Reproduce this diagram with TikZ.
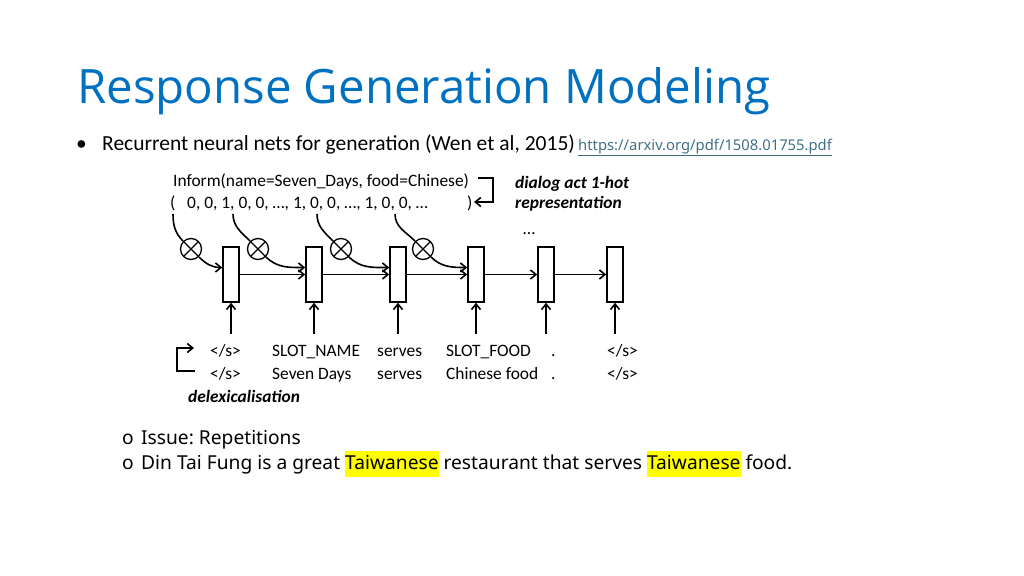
\documentclass[tikz,border=0pt]{standalone}
\usepackage{fontspec}
\setmainfont{Carlito}
\newfontfamily\titlefont{Open Sans}
\newfontfamily\notefont{Noto Sans}
\usetikzlibrary{arrows.meta}
\definecolor{titleblue}{RGB}{0,112,192}
\definecolor{linkgrey}{RGB}{64,112,134}
\definecolor{hlyellow}{RGB}{255,255,0}
\frenchspacing

\begin{document}
\begin{tikzpicture}[x=1pt, y=-1pt,
        cell/.style={rectangle, draw, line width=1.6pt, minimum width=16pt, minimum height=55pt, inner sep=0pt},
        token/.style={anchor=base west, inner sep=0pt, font=\fontsize{17.4}{17.4}\selectfont},
        mult/.style={circle, draw, line width=1.3pt, minimum size=21pt, inner sep=0pt,
            path picture={\draw[line width=1.3pt] (path picture bounding box.north west) -- (path picture bounding box.south east)
                (path picture bounding box.north east) -- (path picture bounding box.south west);}},
        remark/.style={anchor=base west, inner sep=0pt, font=\fontsize{17.4}{17.4}\selectfont\bfseries\itshape},
        bullet/.style={anchor=base west, inner sep=0pt, font=\notefont\fontsize{19.2}{26}\selectfont},
        arrow/.style={-{Straight Barb[length=5.5pt,width=9pt]}, line width=1.6pt}
    ]
        \useasboundingbox (0,0) rectangle (1024,575);

        % slide text
        \node[anchor=base west, inner sep=0pt, text=titleblue, font=\titlefont\fontsize{47.4}{47.4}\selectfont] (title) at (77,103) {Response Generation Modeling};
        \node[anchor=base west, inner sep=0pt, font=\fontsize{21.5}{21.5}\selectfont] (dot) at (76,150) {\textbullet};
        \node[anchor=base west, inner sep=0pt, font=\fontsize{21.5}{21.5}\selectfont] (intro) at (102,150) {Recurrent neural nets for generation (Wen et al, 2015)};
        \node[anchor=base west, inner sep=0pt, text=linkgrey, font=\notefont\fontsize{14.8}{14.8}\selectfont] (link) at (578,150) {\underline{https://arxiv.org/pdf/1508.01755.pdf}};

        % dialog act
        \node[token] (act) at (173,186) {Inform(name=Seven\_Days, food=Chinese)};
        \node[token] (lbr) at (170,208) {(};
        \node[token] (vec) at (187,208) {0, 0, 1, 0, 0, …, 1, 0, 0, …, 1, 0, 0, …};
        \node[token] (rbr) at (467,208) {)};
        \node[remark] (hot) at (515,188) {dialog act 1-hot};
        \node[remark] (hot2) at (515,208) {representation};
        \node[token] (more) at (523,234) {…};
        \coordinate (actA) at (478,178);
        \coordinate (actB) at (474,202);
        \draw[arrow] (actA) -- ++(15,0) |- (actB);

        % recurrent cells
        \foreach \x [count=\i] in {231,314,398,476,546,615} {
            \node[cell] (c\i) at (\x,274.5) {};
            \coordinate (in\i) at (\x,334);
            \draw[arrow] (in\i) -- (c\i.south);
        }
        \foreach \i [count=\j from 2] in {1,...,5}
            \draw[arrow] (c\i.east) -- (c\j.west);

        % gated dialog act
        \coordinate (d1) at (173,214);
        \coordinate (d2) at (233,214);
        \coordinate (d3) at (317,214);
        \coordinate (d4) at (395,214);
        \node[mult] (m1) at (191,249) {};
        \node[mult] (m2) at (258,249) {};
        \node[mult] (m3) at (341,249) {};
        \node[mult] (m4) at (423,249) {};
        \foreach \i in {1,...,4} {
            \draw[line width=1.6pt] (d\i) to[out=-90, in=135] (m\i);
            \draw[arrow] (m\i) to[out=-45, in=180] ([yshift=7pt]c\i.west);
        }

        % tokens
        \node[token] (s1) at (210,356) {</s>};
        \node[token] (s2) at (272,356) {SLOT\_NAME};
        \node[token] (s3) at (377,356) {serves};
        \node[token] (s4) at (446,356) {SLOT\_FOOD};
        \node[token] (s5) at (551,356) {.};
        \node[token] (s6) at (607,356) {</s>};
        \node[token] (w1) at (210,379) {</s>};
        \node[token] (w2) at (272,379) {Seven Days};
        \node[token] (w3) at (377,379) {serves};
        \node[token] (w4) at (446,379) {Chinese food};
        \node[token] (w5) at (551,379) {.};
        \node[token] (w6) at (607,379) {</s>};
        \coordinate (lexA) at (195,371);
        \coordinate (lexB) at (194,348);
        \draw[arrow] (lexA) -- ++(-18,0) |- (lexB);
        \node[remark] (delex) at (188,402) {delexicalisation};

        % issue
        \node[bullet] (o1) at (122,444) {o};
        \node[bullet] (issue) at (141,444) {Issue: Repetitions};
        \node[bullet] (o2) at (122,469) {o};
        \node[bullet] (example) at (141,469)
            {{\setlength{\fboxsep}{0pt}Din Tai Fung is a great \colorbox{hlyellow}{\strut Taiwanese} restaurant that serves \colorbox{hlyellow}{\strut Taiwanese} food.}};
    \end{tikzpicture}
\end{document}
